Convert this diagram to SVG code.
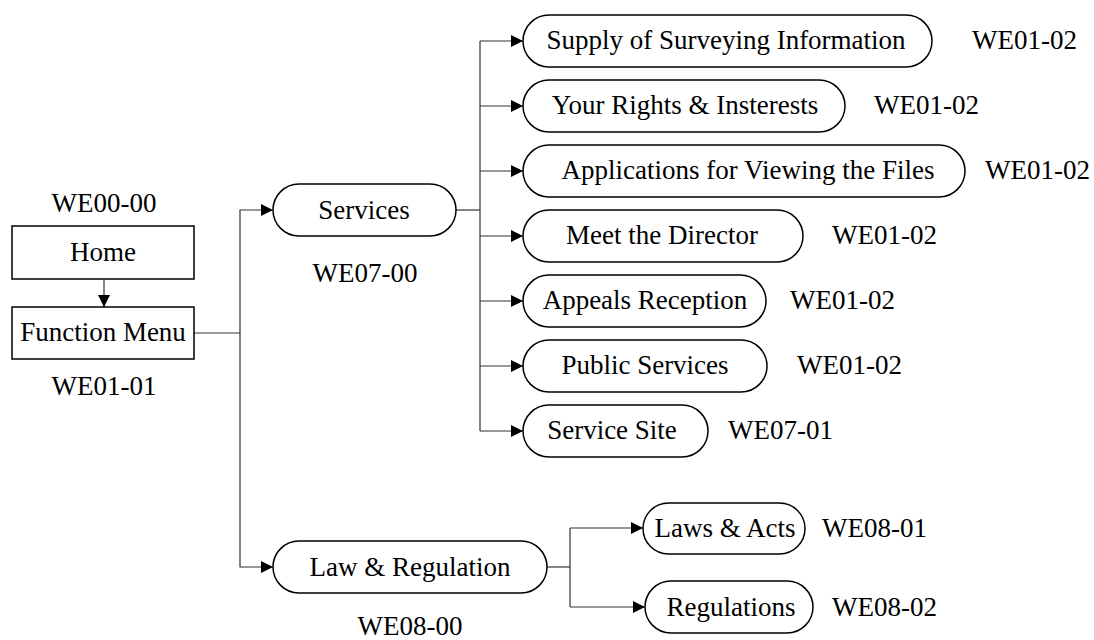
<svg xmlns="http://www.w3.org/2000/svg" width="1094" height="640" viewBox="0 0 1094 640">
<style>
text{font-family:"Liberation Serif","Times New Roman",serif;font-size:27px;fill:#000}
.c{text-anchor:middle}
.n{fill:#fff;stroke:#000;stroke-width:1.5}
.e{fill:none;stroke:#333;stroke-width:1.2}
</style>
<defs>
<marker id="a" markerUnits="userSpaceOnUse" markerWidth="12" markerHeight="12" refX="12" refY="6" orient="auto">
<path d="M0,0 L12,6 L0,12 Z" fill="#000"/>
</marker>
</defs>
<rect width="1094" height="640" fill="#fff"/>
<g id="connectors">
<path class="e" d="M104,279 V307" marker-end="url(#a)"/>
<path class="e" d="M194,333 H240 V210 H273" marker-end="url(#a)"/>
<path class="e" d="M240,333 V567 H273" marker-end="url(#a)"/>
<path class="e" d="M456,210 H480"/>
<path class="e" d="M480,41 V431"/>
<path class="e" d="M480,41 H523" marker-end="url(#a)"/>
<path class="e" d="M480,106 H523" marker-end="url(#a)"/>
<path class="e" d="M480,171 H523" marker-end="url(#a)"/>
<path class="e" d="M480,236 H523" marker-end="url(#a)"/>
<path class="e" d="M480,301 H523" marker-end="url(#a)"/>
<path class="e" d="M480,366 H523" marker-end="url(#a)"/>
<path class="e" d="M480,431 H523" marker-end="url(#a)"/>
<path class="e" d="M547,567 H570"/>
<path class="e" d="M570,528 V607"/>
<path class="e" d="M570,528 H643" marker-end="url(#a)"/>
<path class="e" d="M570,607 H645" marker-end="url(#a)"/>
</g>
<g id="home">
<text class="c" x="104" y="212">WE00-00</text>
<rect class="n" x="12" y="226" width="182" height="53"/>
<text class="c" x="103" y="261">Home</text>
</g>
<g id="function-menu">
<rect class="n" x="12" y="307" width="182" height="52"/>
<text class="c" x="103" y="341">Function Menu</text>
<text class="c" x="104" y="395">WE01-01</text>
</g>
<g id="services">
<rect class="n" x="273" y="184" width="183" height="52" rx="26"/>
<text class="c" x="364" y="219">Services</text>
<text class="c" x="365" y="282">WE07-00</text>
</g>
<g id="supply">
<rect class="n" x="523" y="15" width="409" height="52" rx="26"/>
<text class="c" x="726" y="49">Supply of Surveying Information</text>
<text x="972" y="49">WE01-02</text>
</g>
<g id="rights">
<rect class="n" x="523" y="80" width="322" height="52" rx="26"/>
<text class="c" x="685" y="114">Your Rights &amp; Insterests</text>
<text x="874" y="114">WE01-02</text>
</g>
<g id="applications">
<rect class="n" x="523" y="145" width="442" height="52" rx="26"/>
<text class="c" x="748" y="179">Applications for Viewing the Files</text>
<text x="985" y="179">WE01-02</text>
</g>
<g id="director">
<rect class="n" x="523" y="210" width="280" height="52" rx="26"/>
<text class="c" x="662" y="244">Meet the Director</text>
<text x="832" y="244">WE01-02</text>
</g>
<g id="appeals">
<rect class="n" x="523" y="275" width="243" height="52" rx="26"/>
<text class="c" x="645" y="309">Appeals Reception</text>
<text x="790" y="309">WE01-02</text>
</g>
<g id="public">
<rect class="n" x="523" y="340" width="244" height="52" rx="26"/>
<text class="c" x="645" y="374">Public Services</text>
<text x="797" y="374">WE01-02</text>
</g>
<g id="site">
<rect class="n" x="523" y="405" width="185" height="52" rx="26"/>
<text class="c" x="612" y="439">Service Site</text>
<text x="728" y="439">WE07-01</text>
</g>
<g id="law">
<rect class="n" x="273" y="541" width="274" height="52" rx="26"/>
<text class="c" x="410" y="576">Law &amp; Regulation</text>
<text class="c" x="410" y="635">WE08-00</text>
</g>
<g id="laws-acts">
<rect class="n" x="643" y="503" width="162" height="51" rx="25.5"/>
<text class="c" x="725" y="537">Laws &amp; Acts</text>
<text x="822" y="537">WE08-01</text>
</g>
<g id="regulations">
<rect class="n" x="645" y="581" width="168" height="52" rx="26"/>
<text class="c" x="731" y="616">Regulations</text>
<text x="832" y="616">WE08-02</text>
</g>
</svg>
